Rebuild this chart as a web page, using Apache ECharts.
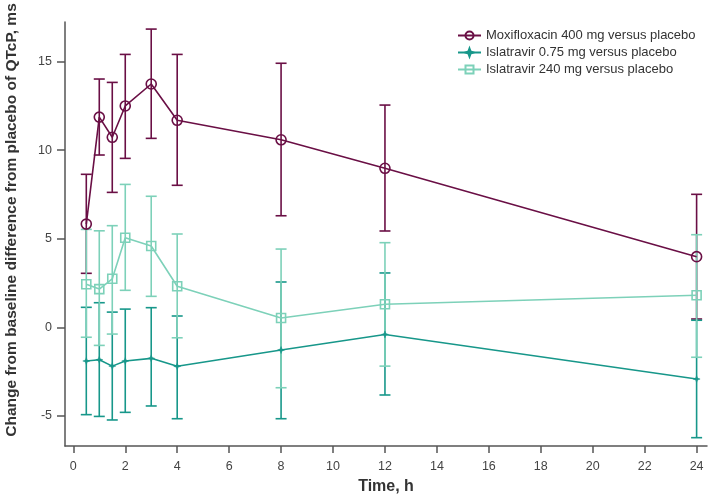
<!DOCTYPE html>
<html>
<head>
<meta charset="utf-8">
<script src="https://cdn.jsdelivr.net/npm/echarts@6/dist/echarts.min.js"></script>
<style>html,body{margin:0;padding:0;background:#fff}#c{width:708px;height:504px}</style>
</head>
<body>
<div id="c"></div>
<script>
// ---- Data ----
const times = [0.5, 1, 1.5, 2, 3, 4, 8, 12, 24];
const xTicks = [0, 2, 4, 6, 8, 10, 12, 14, 16, 18, 20, 22, 24];
const yTicks = [-5, 0, 5, 10, 15];

const moxiName = 'Moxifloxacin 400 mg versus placebo';
const moxiMean = [5.83, 11.87, 10.73, 12.50, 13.74, 11.69, 10.59, 8.98, 3.99];
const moxiLow  = [3.05, 9.73, 7.62, 9.54, 10.67, 8.02, 6.30, 5.44, 0.47];
const moxiHigh = [8.64, 14.02, 13.83, 15.41, 16.84, 15.41, 14.91, 12.55, 7.51];

const isl075Name = 'Islatravir 0.75 mg versus placebo';
const isl075Mean = [-1.90, -1.83, -2.19, -1.90, -1.75, -2.20, -1.28, -0.40, -2.92];
const isl075Low  = [-4.93, -5.03, -5.23, -4.80, -4.44, -5.16, -5.16, -3.82, -6.23];
const isl075High = [1.13, 1.39, 0.86, 1.03, 1.11, 0.64, 2.56, 3.07, 0.40];

const isl240Name = 'Islatravir 240 mg versus placebo';
const isl240Mean = [2.43, 2.16, 2.74, 5.06, 4.59, 2.32, 0.53, 1.30, 1.81];
const isl240Low  = [-0.56, -1.02, -0.38, 2.09, 1.75, -0.59, -3.41, -2.19, -1.69];
const isl240High = [5.53, 5.45, 5.74, 8.07, 7.40, 5.27, 4.42, 4.78, 5.23];

const colMoxi = '#6a0f45';
const col075 = '#17978a';
const col240 = '#7dd1b9';

function pts(mean) { return times.map((t, i) => [t, mean[i]]); }
function bars(low, high) { return times.map((t, i) => [t, low[i], high[i]]); }

function errSeries(id, low, high, color) {
  return {
    type: 'custom',
    name: id,
    data: bars(low, high),
    encode: { x: 0, y: [1, 2] },
    silent: true,
    itemStyle: { color: color },
    renderItem: function (params, api) {
      const x = api.value(0);
      const lo = api.coord([x, api.value(1)]);
      const hi = api.coord([x, api.value(2)]);
      const w = 5.5;
      const style = { stroke: color, lineWidth: 1.6, fill: 'none' };
      return {
        type: 'group',
        children: [
          { type: 'line', shape: { x1: lo[0], y1: lo[1], x2: hi[0], y2: hi[1] }, style: style },
          { type: 'line', shape: { x1: lo[0] - w, y1: lo[1], x2: lo[0] + w, y2: lo[1] }, style: style },
          { type: 'line', shape: { x1: hi[0] - w, y1: hi[1], x2: hi[0] + w, y2: hi[1] }, style: style }
        ]
      };
    }
  };
}

const starPath = 'path://M0,-6L1.6,-1.6L6,0L1.6,1.6L0,6L-1.6,1.6L-6,0L-1.6,-1.6Z';

function lineSeries(name, mean, color, symbol, size, hollow) {
  return {
    type: 'line',
    name: name,
    data: pts(mean),
    symbol: symbol,
    symbolSize: size,
    showAllSymbol: true,
    color: color,
    lineStyle: { color: color, width: 1.6 },
    itemStyle: hollow
      ? { color: 'rgba(255,255,255,0)', borderColor: color, borderWidth: 1.6 }
      : { color: color, borderColor: color, borderWidth: 0.5 },
    emphasis: { disabled: true },
    z: 3
  };
}

const chart = echarts.init(document.getElementById('c'), null, { renderer: 'canvas' });
chart.setOption({
  animation: false,
  backgroundColor: '#fff',
  textStyle: { fontFamily: 'Liberation Sans, Arial, sans-serif' },
  grid: { left: 65, right: 1, top: 22, bottom: 58, containLabel: false, outerBoundsMode: 'none' },
  legend: {
    data: [moxiName, isl075Name, isl240Name],
    orient: 'vertical',
    left: 452,
    top: 24,
    itemWidth: 23,
    itemHeight: 10,
    itemGap: 4,
    textStyle: { fontSize: 13, color: '#333' },
    selectedMode: false
  },
  xAxis: {
    type: 'value',
    min: -0.32,
    max: 24.4,
    name: 'Time, h',
    nameLocation: 'middle',
    nameGap: 33,
    nameTextStyle: { fontSize: 16, fontWeight: 'bold', color: '#333' },
    axisLine: { show: true, onZero: false, lineStyle: { color: '#555', width: 1.5 } },
    axisTick: { show: true, customValues: xTicks, length: 7, lineStyle: { color: '#555', width: 1.5 } },
    axisLabel: { customValues: xTicks, fontSize: 12.5, color: '#444', margin: 14 },
    splitLine: { show: false }
  },
  yAxis: {
    type: 'value',
    min: -6.7,
    max: 17.24,
    name: 'Change from baseline difference from placebo of QTcP, ms',
    nameLocation: 'middle',
    nameRotate: 90,
    nameGap: 45,
    nameTextStyle: { fontSize: 15.5, fontWeight: 'bold', color: '#333', padding: [0, 0, 0, 28] },
    axisLine: { show: true, onZero: false, lineStyle: { color: '#555', width: 1.5 } },
    axisTick: { show: true, customValues: yTicks, length: 8, lineStyle: { color: '#555', width: 1.5 } },
    axisLabel: { customValues: yTicks, fontSize: 12.5, color: '#444', margin: 13 },
    splitLine: { show: false }
  },
  series: [
    errSeries('err-moxi', moxiLow, moxiHigh, colMoxi),
    errSeries('err-075', isl075Low, isl075High, col075),
    errSeries('err-240', isl240Low, isl240High, col240),
    lineSeries(moxiName, moxiMean, colMoxi, 'circle', 10, true),
    lineSeries(isl075Name, isl075Mean, col075, starPath, 7, false),
    lineSeries(isl240Name, isl240Mean, col240, 'rect', 9, true)
  ]
});
</script>
</body>
</html>
